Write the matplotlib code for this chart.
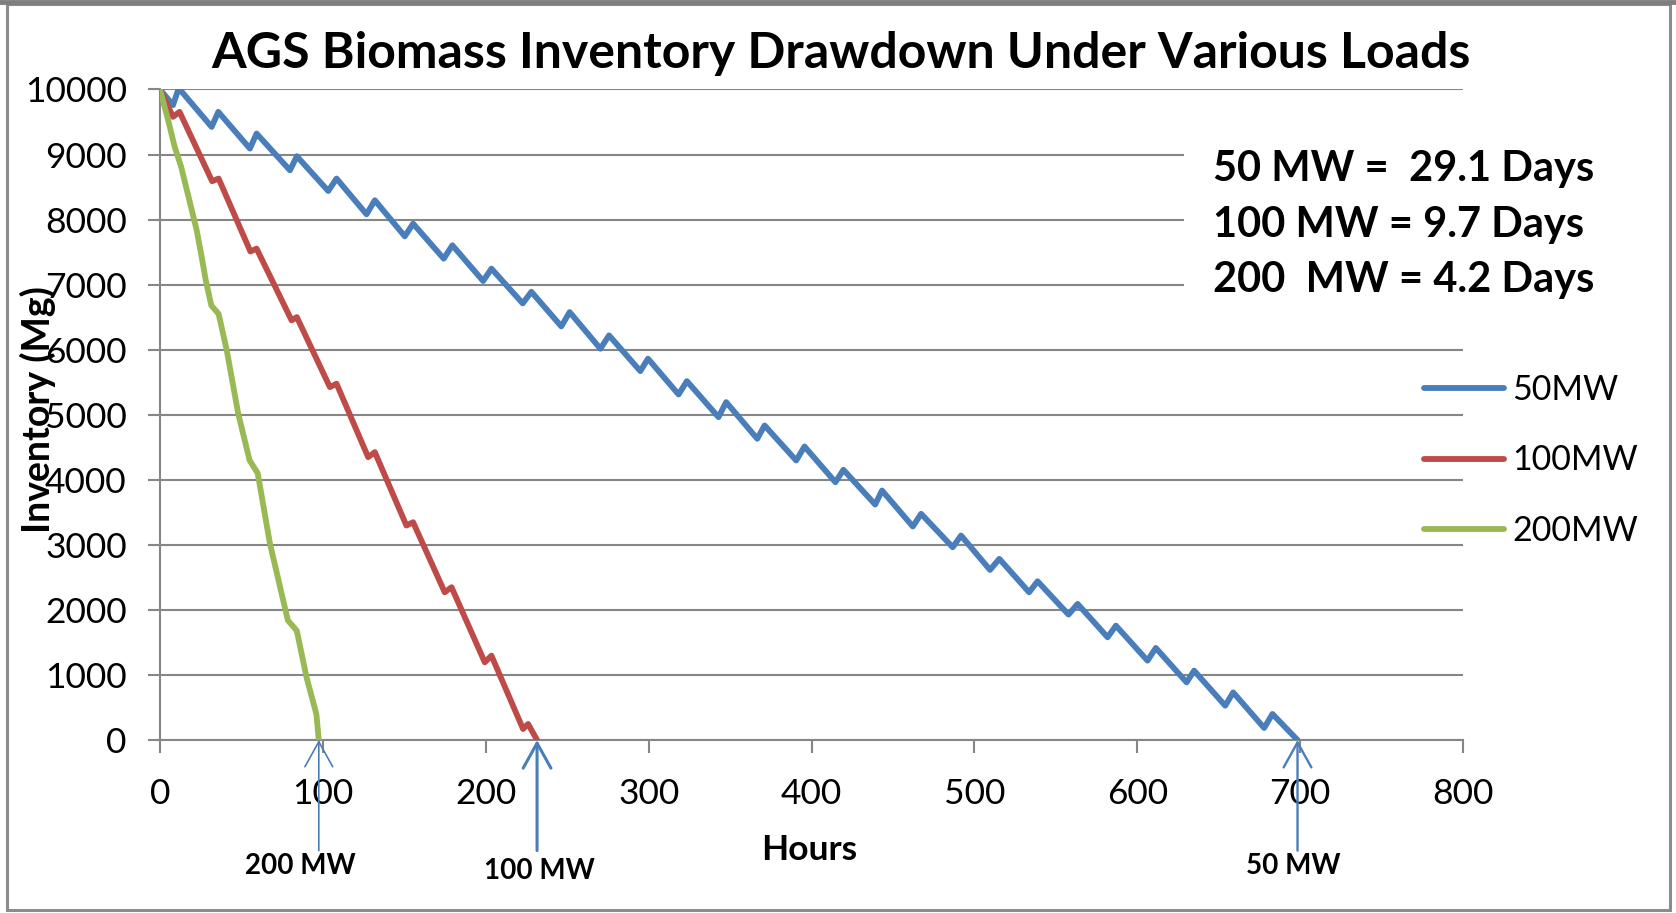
import matplotlib.pyplot as plt
from matplotlib.patches import Rectangle

plt.rcParams['font.family'] = ['Lato', 'DejaVu Sans']

# 50 MW load: hours / inventory (Mg), troughs and peaks
hours_50 = [0, 8, 11.5, 31.7, 35.8, 55.2, 59.3, 79.8, 84.0, 103.3, 108.4, 126.8, 131.9,
            150.3, 155.4, 174.2, 179.5, 198.4, 203.5, 222.7, 228.0, 246.4, 251.5,
            270.4, 275.7, 294.9, 299.6, 318.4, 323.5, 342.9, 347.6, 366.7, 371.2,
            390.6, 395.7, 414.7, 419.6, 439.1, 443.3, 462.2, 467.3, 486.7, 491.8,
            509.6, 515.3, 533.6, 538.8, 557.8, 563.4, 581.8, 586.9, 606.3, 611.4,
            630.3, 634.9, 654.0, 658.9, 677.9, 683.0, 698.4]
inv_50 = [10000, 9760, 10020, 9425, 9656, 9092, 9323, 8758, 8974, 8440, 8631, 8082, 8297,
          7743, 7938, 7400, 7605, 7056, 7246, 6712, 6890, 6358, 6578,
          6015, 6220, 5671, 5862, 5312, 5517, 4963, 5194, 4631, 4835,
          4297, 4512, 3963, 4154, 3620, 3835, 3282, 3477, 2963, 3143,
          2615, 2785, 2271, 2440, 1928, 2092, 1579, 1758, 1220, 1415,
          886, 1066, 528, 732, 185, 400, 0]

# 100 MW load
hours_100 = [0, 8, 12, 32, 36, 55.5, 59.3, 80.8, 84, 104.3, 108.4, 127.8, 131.9,
             151.3, 155.4, 174.8, 179, 199.4, 203.5, 222.9, 226, 231.5]
inv_100 = [10000, 9580, 9656, 8590, 8631, 7510, 7554, 6451, 6502, 5425, 5477, 4348, 4425,
           3297, 3348, 2271, 2348, 1194, 1297, 169, 246, 0]

# 200 MW load
hours_200 = [0, 5, 9, 13, 18, 22.5, 25.6, 28, 31.5, 36, 41, 48, 55, 60, 67.5, 78.5, 84,
             90, 96, 97.5]
inv_200 = [10000, 9530, 9120, 8810, 8300, 7840, 7425, 7080, 6680, 6550, 5990, 5020, 4300,
           4100, 3020, 1840, 1680, 960, 400, 0]

series = [('50MW', hours_50, inv_50, '#4a7ebb'),
          ('100MW', hours_100, inv_100, '#be4b48'),
          ('200MW', hours_200, inv_200, '#98b954')]

# where each load runs out, with the arrow labels below the axis
empty_hours = [97.5, 231.5, 698.4]
empty_labels = ['200 MW', '100 MW', '50 MW']
label_hours = [86, 233, 696]
summary = '50 MW =  29.1 Days\n100 MW = 9.7 Days\n200  MW = 4.2 Days'

W, H = 1676, 913
fig = plt.figure(figsize=(W / 100, H / 100), dpi=100)
ax = fig.add_axes([160 / W, 1 - 740 / H, 1303 / W, 650.5 / H])

grid_c = '#868686'
for name, x, y, c in series:
    ax.plot(x, y, color=c, lw=4.2, label=name, solid_capstyle='round', zorder=3)

ax.set_xlim(0, 800)
ax.set_ylim(0, 10000)
ax.set_xticks(range(0, 801, 100))
ax.set_yticks(range(0, 10001, 1000))
ax.yaxis.grid(True, color=grid_c, lw=1.5)
ax.set_axisbelow(True)
for s in ['top', 'right']:
    ax.spines[s].set_visible(False)
for s in ['left', 'bottom']:
    ax.spines[s].set_color(grid_c)
    ax.spines[s].set_linewidth(1.5)
ax.tick_params(axis='both', colors=grid_c, width=1.5, length=9, labelsize=25.5,
               labelcolor='black')
ax.tick_params(axis='x', pad=18)
ax.tick_params(axis='y', pad=15)

# arrows marking when the inventory is gone
arrow_w = [1.2, 2.2, 1.7]
label_y = [866, 871, 866]
for hx, lx, lab, lw, ly in zip(empty_hours, label_hours, empty_labels, arrow_w, label_y):
    ax.annotate('', xy=(hx, 0), xytext=(hx, -1700), annotation_clip=False,
                arrowprops=dict(arrowstyle='->,head_length=0.9,head_width=0.5',
                                color='#4a7ebb', lw=lw, mutation_scale=20,
                                shrinkA=0, shrinkB=0))
    fig.text(ax.transData.transform((lx, 0))[0] / W, 1 - ly / H, lab,
             ha='center', va='center', fontsize=20, fontweight='bold')

fig.text(841 / W, 1 - 53 / H, 'AGS Biomass Inventory Drawdown Under Various Loads',
         ha='center', va='center', fontsize=36, fontweight='bold')
fig.text(809 / W, 1 - 850 / H, 'Hours', ha='center', va='center',
         fontsize=25.5, fontweight='bold')
# the original chart has the axis title sitting on top of the tick labels
fig.text(38 / W, 1 - 410 / H, 'Inventory (Mg)', ha='center', va='center',
         rotation=90, fontsize=27, fontweight='bold')

fig.text(1213 / W, 1 - 224.5 / H, summary, ha='left', va='center', fontsize=30,
         fontweight='bold', linespacing=1.58,
         bbox=dict(boxstyle='square,pad=0.7', fc='white', ec='none'))

fig.legend(loc='upper left', bbox_to_anchor=(1424 / W, 1 - 374 / H), frameon=False,
           fontsize=24.5, handlelength=2.35, handletextpad=0.25, labelspacing=1.13,
           borderpad=0, borderaxespad=0)

# outer chart frame
fig.patches.append(Rectangle((7 / W, 3 / H), 1663 / W, 906 / H, transform=fig.transFigure,
                             fill=False, ec='#8c8c8c', lw=2.2))
fig.lines.append(plt.Line2D([0, 1], [1 - 2 / H, 1 - 2 / H], transform=fig.transFigure,
                            color='#7f7f7f', lw=3.5))

fig.savefig('out.png', dpi=100)
